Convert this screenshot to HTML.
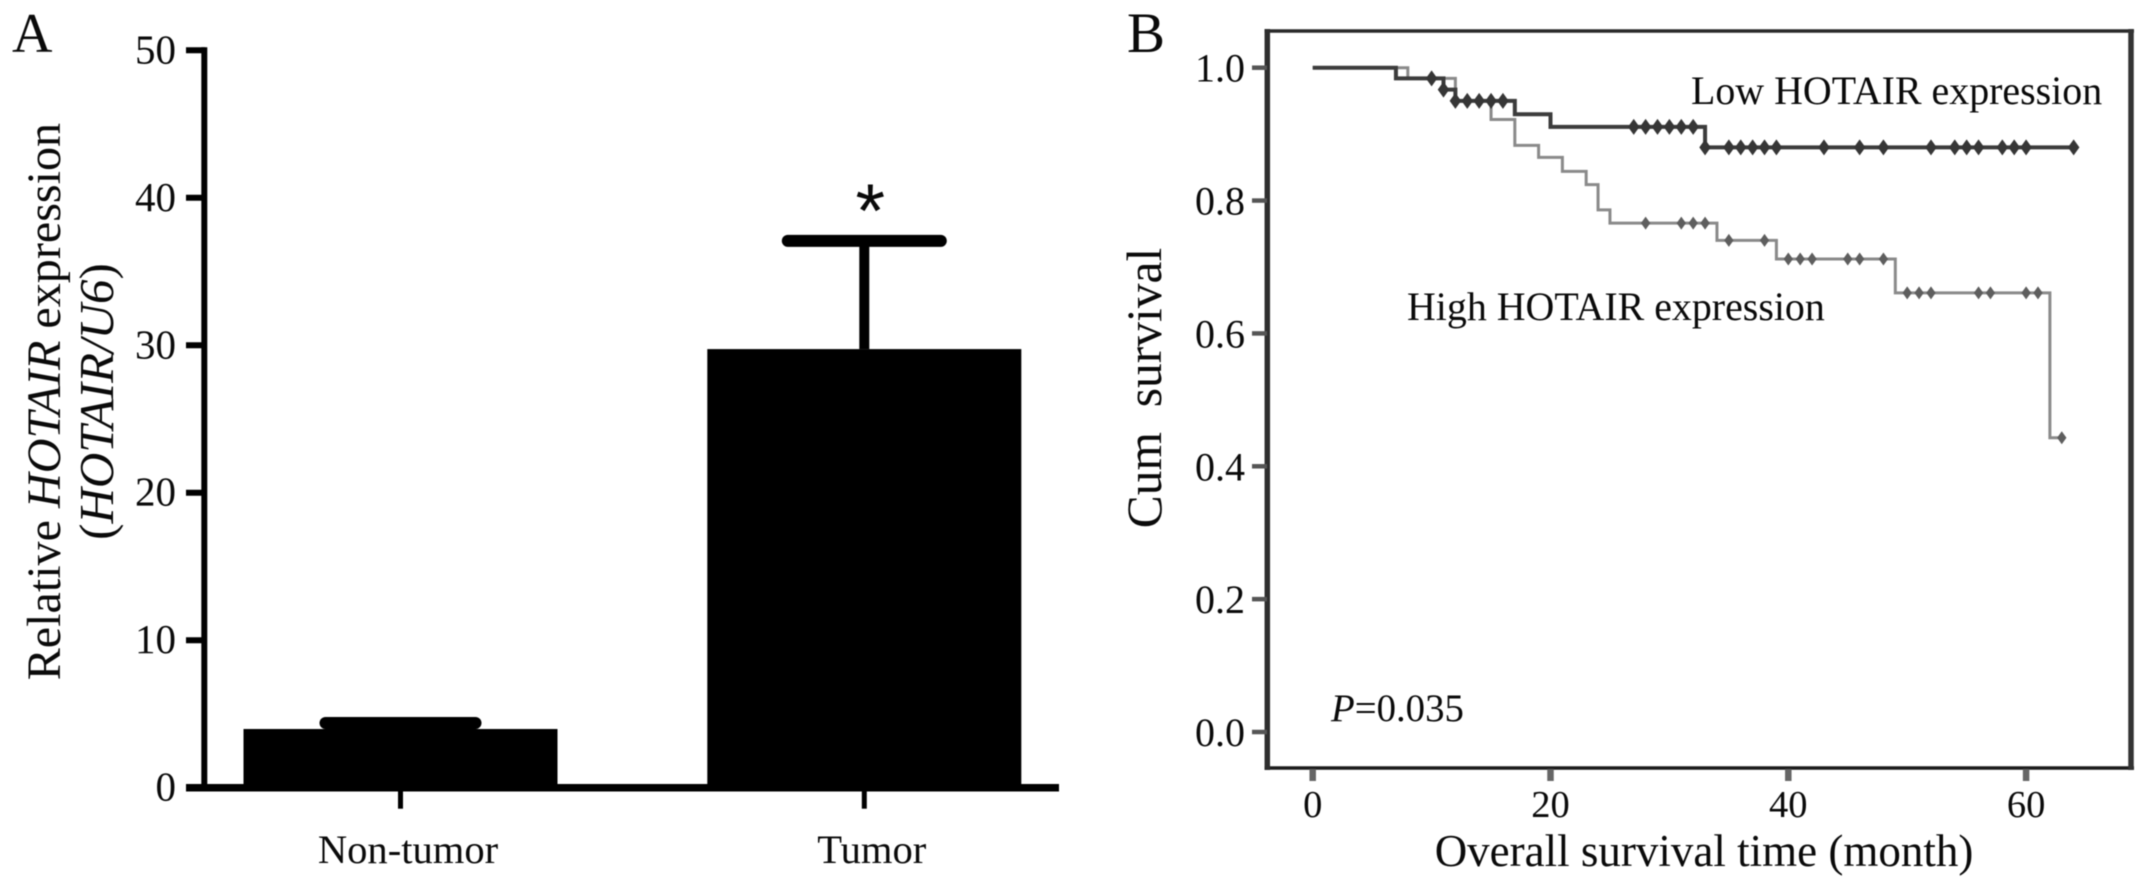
<!DOCTYPE html>
<html lang="en">
<head>
<meta charset="utf-8">
<title>HOTAIR expression and survival</title>
<style>
html,body{margin:0;padding:0;background:#fff;width:2150px;height:888px;overflow:hidden}
svg{display:block;filter:blur(.65px)}
text{font-family:"Liberation Serif",serif;fill:#0a0a0a}
</style>
</head>
<body>
<svg id="figure" xmlns="http://www.w3.org/2000/svg" width="2150" height="888" viewBox="0 0 2150 888">
<rect x="0" y="0" width="2150" height="888" fill="#fff"/>
<g id="panelA"></g>
<g id="panelB"></g>
<text x="12" y="52" font-size="56">A</text>
<text x="1127" y="52" font-size="57">B</text>
<text transform="translate(60,401.6) rotate(-90)" text-anchor="middle" font-size="48.1">Relative <tspan font-style="italic">HOTAIR</tspan> expression</text>
<text transform="translate(113,401.5) rotate(-90)" text-anchor="middle" font-size="49">(<tspan font-style="italic">HOTAIR/U6</tspan>)</text>
<text transform="translate(1161,388) rotate(-90)" text-anchor="middle" font-size="49.5">Cum&#160;&#160;survival</text>
<text x="1704" y="866" text-anchor="middle" font-size="45">Overall survival time (month)</text>
<text x="1691" y="104" font-size="39.9">Low HOTAIR expression</text>
<text x="1407" y="320" font-size="39.9">High HOTAIR expression</text>
<text x="1331" y="721" font-size="38.8"><tspan font-style="italic">P</tspan>=0.035</text>
</svg>
<script>
// Panel A data
const barCategories = ["Non-tumor", "Tumor"];
const barValues = [3.98, 29.74];
const barErrors = [0.41, 7.34];
const barTicks = [0, 10, 20, 30, 40, 50];
const significance = ["", "*"];

// Panel B data (Kaplan-Meier steps)
const survivalXTicks = [0, 20, 40, 60];
const survivalYTicks = [0.0, 0.2, 0.4, 0.6, 0.8, 1.0];
const lowMonths = [0, 7, 11, 12, 17, 20, 33, 64];
const lowSurvival = [1.0, 0.984, 0.967, 0.95, 0.93, 0.911, 0.88, 0.88];
const lowCensored = [10, 11, 12, 13, 14, 15, 16, 27, 28, 29, 30, 31, 32, 33, 35, 36, 37, 38, 39, 43, 46, 48, 52, 54, 55, 56, 58, 59, 60, 64];
const highMonths = [0, 8, 12, 15, 17, 19, 21, 23, 24, 25, 34, 39, 49, 62, 63];
const highSurvival = [1.0, 0.984, 0.95, 0.922, 0.883, 0.865, 0.844, 0.824, 0.786, 0.766, 0.74, 0.712, 0.661, 0.443, 0.443];
const highCensored = [28, 31, 32, 33, 35, 38, 40, 41, 42, 45, 46, 48, 50, 51, 52, 56, 57, 60, 61, 63];

const NS = "http://www.w3.org/2000/svg";
function make(parent, tag, attrs, txt) {
  const el = document.createElementNS(NS, tag);
  for (const k in attrs) el.setAttribute(k, attrs[k]);
  if (txt !== undefined) el.textContent = txt;
  parent.appendChild(el);
  return el;
}

// ---- Panel A ----
const a = document.getElementById("panelA");
const ay = v => 787.7 - (v / 50) * 737.4;
const ax = i => 400.5 + 463.8 * i;
const barHalf = 157;
const capHalf = [75, 76.5];

barCategories.forEach((c, i) => {
  const bar = make(a, "rect", {x: ax(i) - barHalf, y: ay(barValues[i]), width: barHalf * 2, height: ay(0) - ay(barValues[i]), fill: "#000"});
  
  
  const top = barValues[i] + barErrors[i];
  const stem = make(a, "line", {x1: ax(i), x2: ax(i), y1: ay(barValues[i]), y2: ay(top), stroke: "#000", "stroke-width": 10});
  
  
  const cap = make(a, "line", {x1: ax(i) - capHalf[i], x2: ax(i) + capHalf[i], y1: ay(top), y2: ay(top), stroke: "#000", "stroke-width": 12, "stroke-linecap": "round"});
  
  
  const tk = make(a, "line", {x1: ax(i), x2: ax(i), y1: ay(0), y2: ay(0) + 21, stroke: "#000", "stroke-width": 5});
  
  
  const lb = make(a, "text", {x: ax(i) + 7.5, y: 863, "text-anchor": "middle", "font-size": 40.6}, c);
  
  
  if (significance[i]) {
    const st = make(a, "text", {x: ax(i) + 6, y: ay(top) - 4, "text-anchor": "middle", "font-size": 76, style: "font-family:'Liberation Sans',sans-serif"}, significance[i]);
    
    
  }
});
const axisYA = make(a, "line", {x1: 204.3, x2: 204.3, y1: ay(50) - 3, y2: ay(0) + 3, stroke: "#000", "stroke-width": 6});


const axisXA = make(a, "line", {x1: 186, x2: 1059, y1: ay(0), y2: ay(0), stroke: "#000", "stroke-width": 7.5});


barTicks.forEach(t => {
  const tk = make(a, "line", {x1: 186, x2: 205, y1: ay(t), y2: ay(t), stroke: "#000", "stroke-width": 6});
  
  
  const lb = make(a, "text", {x: 176, y: ay(t) + 13, "text-anchor": "end", "font-size": 41}, String(t));
  
  
});

// ---- Panel B ----
const b = document.getElementById("panelB");
const bx = m => 1312.7 + m * 11.89;
const by = s => 732 - s * 664.3;

const frameTop = make(b, "line", {x1: 1264.5, x2: 2134, y1: 31, y2: 31, stroke: "#2a2a2a", "stroke-width": 3.5});


const frameBottom = make(b, "line", {x1: 1264.5, x2: 2134, y1: 768, y2: 768, stroke: "#1c1c1c", "stroke-width": 3.5});


const frameLeft = make(b, "line", {x1: 1267.3, x2: 1267.3, y1: 29, y2: 770, stroke: "#2e2e2e", "stroke-width": 5.5});


const frameRight = make(b, "line", {x1: 2131, x2: 2131, y1: 29, y2: 770, stroke: "#333", "stroke-width": 5.5});



survivalYTicks.forEach(t => {
  const tk = make(b, "line", {x1: 1252, x2: 1267, y1: by(t), y2: by(t), stroke: "#555", "stroke-width": 4.5});
  
  
  const lb = make(b, "text", {x: 1245, y: by(t) + 14, "text-anchor": "end", "font-size": 40}, t.toFixed(1));
  
  
});
survivalXTicks.forEach(t => {
  const tk = make(b, "line", {x1: bx(t), x2: bx(t), y1: 769, y2: 781, stroke: "#666", "stroke-width": 6.5});
  
  
  const lb = make(b, "text", {x: bx(t), y: 817, "text-anchor": "middle", "font-size": 38.5}, String(t));
  
  
});

function stepPath(ms, ss) {
  let d = "M" + bx(ms[0]) + " " + by(ss[0]);
  for (let i = 1; i < ms.length; i++) {
    d += "H" + bx(ms[i]) + "V" + by(ss[i]);
  }
  return d;
}
function valueAt(ms, ss, m) {
  let v = ss[0];
  for (let i = 0; i < ms.length; i++) { if (m >= ms[i]) v = ss[i]; }
  return v;
}
function drawSeries(name, ms, ss, cens, lineColor, markColor, lw, size) {
  const g = make(b, "g", {});
  
  
  const p = make(g, "path", {d: stepPath(ms, ss), fill: "none", stroke: lineColor, "stroke-width": lw});
  
  
  cens.forEach(m => {
    const x = bx(m), y = by(valueAt(ms, ss, m));
    const mk = make(g, "path", {d: `M${x} ${y - size}L${x + size * 0.72} ${y}L${x} ${y + size}L${x - size * 0.72} ${y}Z`, fill: markColor});
    
    
  });
}
drawSeries("high-hotair", highMonths, highSurvival, highCensored, "#8a8a8a", "#5e5e5e", 3, 6.5);
drawSeries("low-hotair", lowMonths, lowSurvival, lowCensored, "#3c3c3c", "#363636", 4, 8);
</script>
</body>
</html>
